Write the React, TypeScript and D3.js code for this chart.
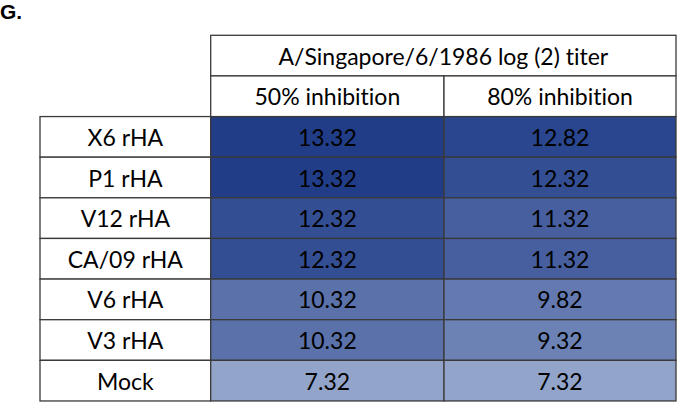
import React from "react";
import * as d3 from "d3";

const rowLabels = ["X6 rHA", "P1 rHA", "V12 rHA", "CA/09 rHA", "V6 rHA", "V3 rHA", "Mock"];
const columnLabels = ["50% inhibition", "80% inhibition"];
const groupTitle = "A/Singapore/6/1986 log (2) titer";
const inhibition50 = [13.32, 13.32, 12.32, 12.32, 10.32, 10.32, 7.32];
const inhibition80 = [12.82, 12.32, 11.32, 11.32, 9.82, 9.32, 7.32];
const panelLabel = "G.";

export default function App() {
  const W = 678, H = 402;
  const top = 35.3, rowH = 40.63;
  const xLabelL = 40, xData = 210.7, xMid = 444, xR = 676;
  const font = "Lato, 'Open Sans', sans-serif";
  const fs = 23;
  const color = d3.scaleLinear<string>().domain([7.32, 13.32]).range(["#92a4ca", "#213d88"]).interpolate(d3.interpolateRgb);
  const y = d3.scaleLinear().domain([0, 9]).range([top, top + rowH * 9]);
  const series = [inhibition50, inhibition80];
  const colX = [xData, xMid, xR];
  const stroke = "#3a3a3a";
  const sw = 1.3;
  const textY = (i: number) => y(i) + rowH / 2;
  const tStyle = { fontVariantLigatures: "none" as const };

  return (
    <svg width={W} height={H} style={{ position: "absolute", left: 0, top: 0, display: "block" }} fontFamily={font}>
      <rect width={W} height={H} fill="#fff" />
      <text x={0} y={18.5} fontFamily="'Liberation Sans', Arial, sans-serif" fontWeight="bold" fontSize={21} fill="#000">{panelLabel}</text>
      {rowLabels.map((r, i) => (
        <g key={r}>
          <rect x={xLabelL} y={y(i + 2)} width={xData - xLabelL} height={rowH} fill="#fff" stroke={stroke} strokeWidth={sw} />
          <text x={(xLabelL + xData) / 2} y={textY(i + 2)} dominantBaseline="central" textAnchor="middle" fontSize={fs} fill="#000" style={tStyle}>{r}</text>
          {series.map((s, j) => (
            <g key={j}>
              <rect x={colX[j]} y={y(i + 2)} width={colX[j + 1] - colX[j]} height={rowH} fill={color(s[i])} stroke={stroke} strokeWidth={sw} />
              <text x={(colX[j] + colX[j + 1]) / 2} y={textY(i + 2)} dominantBaseline="central" textAnchor="middle" fontSize={fs} fill="#000" style={tStyle}>{s[i].toFixed(2)}</text>
            </g>
          ))}
        </g>
      ))}
      <rect x={xData} y={y(0)} width={xR - xData} height={rowH} fill="#fff" stroke={stroke} strokeWidth={sw} />
      <text x={(xData + xR) / 2} y={textY(0)} dominantBaseline="central" textAnchor="middle" fontSize={fs} fill="#000" style={tStyle}>{groupTitle}</text>
      {columnLabels.map((c, j) => (
        <g key={c}>
          <rect x={colX[j]} y={y(1)} width={colX[j + 1] - colX[j]} height={rowH} fill="#fff" stroke={stroke} strokeWidth={sw} />
          <text x={(colX[j] + colX[j + 1]) / 2} y={textY(1)} dominantBaseline="central" textAnchor="middle" fontSize={fs} fill="#000" style={tStyle}>{c}</text>
        </g>
      ))}
    </svg>
  );
}
